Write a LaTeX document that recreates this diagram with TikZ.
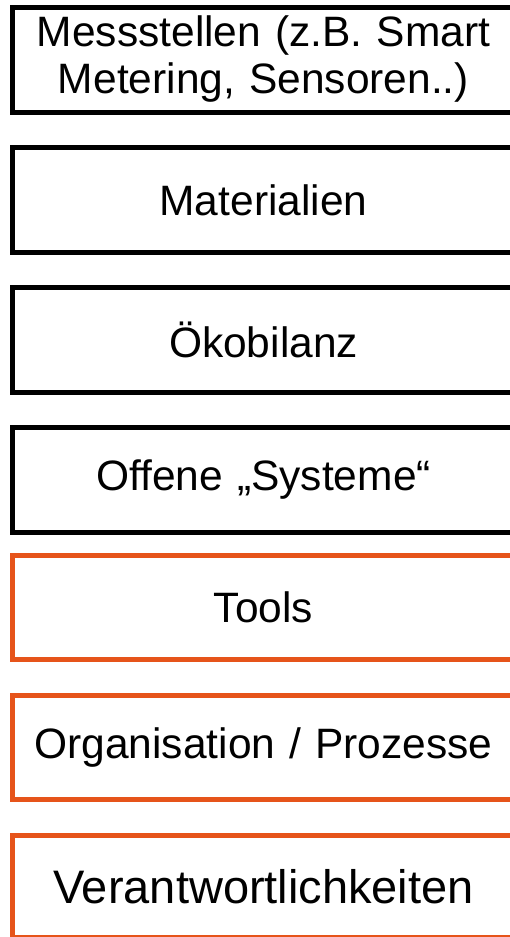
\documentclass[tikz,border=0pt]{standalone}
\usepackage{fontspec}
\setmainfont{Liberation Sans}
\definecolor{boxorange}{RGB}{230,84,26}
\begin{document}
\begin{tikzpicture}[x=1pt,y=-1pt,
  box/.style={draw=black,line width=5pt,minimum width=510pt,minimum height=105pt,anchor=north west,inner sep=0pt,
    font=\fontsize{42.5}{47}\selectfont,align=center,text width=500pt},
  obox/.style={box,draw=boxorange}]
\useasboundingbox (0,0) rectangle (510,937);
\clip (0,0) rectangle (510,937);
\node[box] (b1) at (9.5,4.5) {\hspace*{-7pt}Messstellen (z.B. Smart\\\hspace*{-7pt}Metering, Sensoren..)};
\node[box] (b2) at (9.5,145) {\hspace*{-7pt}Materialien};
\node[box] (b3) at (9.5,285) {\hspace*{-7pt}Ökobilanz};
\node[box] (b4) at (9.5,425) {\hspace*{-7pt}Offene „Systeme“};
\node[obox,minimum height=104pt] (b5) at (9.5,553) {\hspace*{-7pt}Tools};
\node[obox,minimum height=104pt] (b6) at (9.5,693) {\hspace*{-7pt}Organisation / Prozesse};
\node[obox,minimum height=102pt,font=\fontsize{47}{52}\selectfont] (b7) at (9.5,833) {\hspace*{-7pt}Verantwortlichkeiten};
\end{tikzpicture}
\end{document}
